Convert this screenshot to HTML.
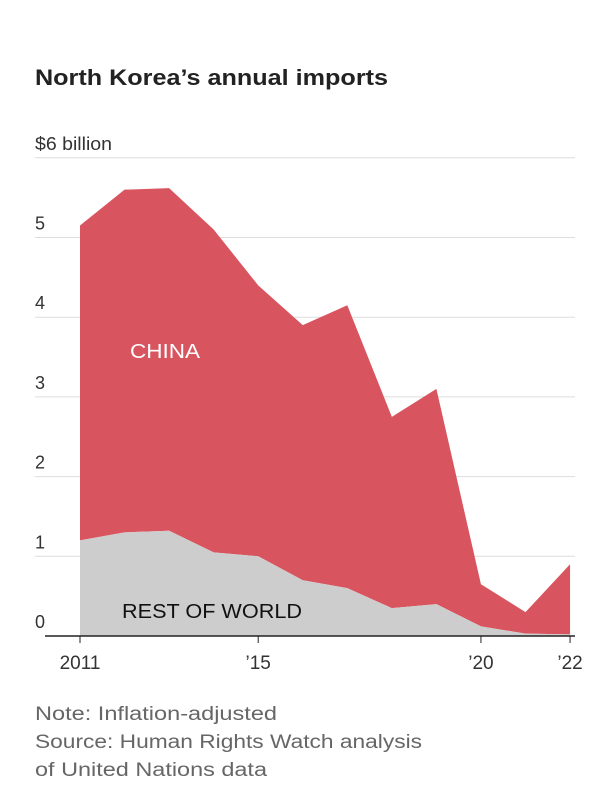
<!DOCTYPE html>
<html><head><meta charset="utf-8"><style>
body{margin:0;background:#fff;font-family:"Liberation Sans",sans-serif;}
svg text{font-family:"Liberation Sans",sans-serif;}
</style></head><body>
<svg width="603" height="800">
<text x="35" y="85" font-size="22" font-weight="bold" fill="#222" textLength="353" lengthAdjust="spacingAndGlyphs">North Korea’s annual imports</text>
<g id="grid"></g>
<path id="china" fill="#d8555f"></path>
<path id="row" fill="#cdcdcd"></path>
<line x1="45" x2="575" y1="636" y2="636" stroke="#222" stroke-width="1.5"></line>
<g id="xt"></g>
<text x="130" y="358" font-size="20" fill="#fff" textLength="70" lengthAdjust="spacingAndGlyphs">CHINA</text>
<text x="122" y="618" font-size="20" fill="#111" textLength="180" lengthAdjust="spacingAndGlyphs">REST OF WORLD</text>
<text x="35" y="720" font-size="19" fill="#666" textLength="242" lengthAdjust="spacingAndGlyphs">Note: Inflation-adjusted</text>
<text x="35" y="748" font-size="19" fill="#666" textLength="387" lengthAdjust="spacingAndGlyphs">Source: Human Rights Watch analysis</text>
<text x="35" y="776" font-size="19" fill="#666" textLength="232" lengthAdjust="spacingAndGlyphs">of United Nations data</text>
</svg>
<script>
const years=[2011,2012,2013,2014,2015,2016,2017,2018,2019,2020,2021,2022];
const totalVals=[5.15,5.6,5.62,5.1,4.4,3.9,4.15,2.75,3.1,0.65,0.3,0.9];
const rowVals=[1.2,1.3,1.32,1.05,1.0,0.7,0.6,0.35,0.4,0.12,0.03,0.02];
const yTicks=[0,1,2,3,4,5,6];
const yTickLabels=["0","1","2","3","4","5","$6 billion"];
const xTickYears=[2011,2015,2020,2022];
const xTickLabels=["2011","’15","’20","’22"];
const ns="http://www.w3.org/2000/svg";
const x=yr=>80+(yr-2011)*44.55;
const y=v=>636-v*79.7;
const g=document.getElementById('grid');
yTicks.forEach((t,i)=>{
 if(t>0){const l=document.createElementNS(ns,'line');
 l.setAttribute('x1',35);l.setAttribute('x2',575);l.setAttribute('y1',y(t));l.setAttribute('y2',y(t));
 l.setAttribute('stroke','#ddd');
 
 
 g.appendChild(l);}
 const tx=document.createElementNS(ns,'text');
 tx.setAttribute('x',35);tx.setAttribute('y',y(t)-8);tx.setAttribute('font-size','18');tx.setAttribute('fill','#333');
 if(t===6){tx.setAttribute('textLength','77');tx.setAttribute('lengthAdjust','spacingAndGlyphs');}
 tx.textContent=yTickLabels[i];
 
 
 g.appendChild(tx);
});
function area(top,bot){
 let d='M'+years.map((yr,i)=>x(yr)+','+y(top[i])).join('L');
 for(let i=years.length-1;i>=0;i--)d+='L'+x(years[i])+','+y(bot[i]);
 return d+'Z';
}
document.getElementById('china').setAttribute('d',area(totalVals,rowVals));
document.getElementById('row').setAttribute('d',area(rowVals,years.map(()=>0)));
const xt=document.getElementById('xt');
xTickYears.forEach((yr,i)=>{
 const l=document.createElementNS(ns,'line');
 l.setAttribute('x1',x(yr));l.setAttribute('x2',x(yr));l.setAttribute('y1',636);l.setAttribute('y2',643);l.setAttribute('stroke','#222');
 
 
 xt.appendChild(l);
 const t=document.createElementNS(ns,'text');
 t.setAttribute('x',x(yr));t.setAttribute('y',669);t.setAttribute('font-size','19');t.setAttribute('text-anchor','middle');t.setAttribute('fill','#333');
 t.textContent=xTickLabels[i];
 
 
 xt.appendChild(t);
});
</script>
</body></html>
